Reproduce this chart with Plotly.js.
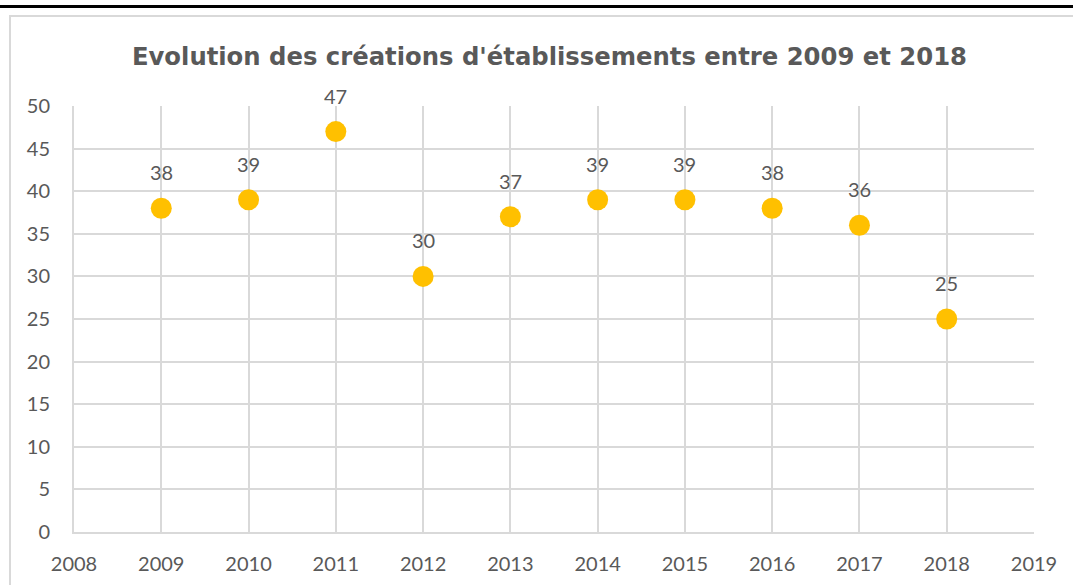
<!DOCTYPE html>
<html>
<head>
<meta charset="utf-8">
<script src="https://cdn.plot.ly/plotly-3.0.1.min.js"></script>
<style>
  html, body { margin: 0; padding: 0; background: #fff; width: 1073px; height: 585px; overflow: hidden; }
  #topline { position: absolute; left: 0; top: 5px; width: 1073px; height: 3px; background: #000; }
  #frame { position: absolute; left: 9px; top: 15px; width: 1064px; height: 570px; border-left: 2px solid #d9d9d9; border-top: 2px solid #d9d9d9; }
  #chart { width: 1062px; height: 568px; }
</style>
</head>
<body>
<div id="topline"></div>
<div id="frame"><div id="chart"></div></div>
<script>
const years = [2009, 2010, 2011, 2012, 2013, 2014, 2015, 2016, 2017, 2018];
const creations = [38, 39, 47, 30, 37, 39, 39, 38, 36, 25];
const chartTitle = "Evolution des créations d'établissements entre 2009 et 2018";

const labelFont = { family: "Lato, 'Open Sans', sans-serif", size: 20, color: "#595959" };

const trace = {
  type: "scatter",
  mode: "markers",
  x: years,
  y: creations,
  marker: { color: "#FFC000", size: 21 },
  hoverinfo: "x+y"
};

const annotations = years.map((yr, i) => ({
  x: yr, y: creations[i], xref: "x", yref: "y",
  text: String(creations[i]), showarrow: false,
  yshift: 36, font: labelFont
}));

const layout = {
  width: 1062, height: 568,
  margin: { l: 63, r: 39, t: 89, b: 53 },
  paper_bgcolor: "#fff", plot_bgcolor: "#fff",
  showlegend: false,
  title: {
    text: "<b>" + chartTitle + "</b>",
    font: { family: "'DejaVu Sans', sans-serif", size: 24.3, color: "#595959" },
    x: 0.507, xref: "container", xanchor: "center",
    y: 0.93, yref: "container", yanchor: "middle"
  },
  xaxis: {
    range: [2008, 2019], dtick: 1, tick0: 2008,
    showgrid: true, gridcolor: "#d9d9d9", gridwidth: 2,
    showline: true, linecolor: "#d9d9d9", linewidth: 2,
    zeroline: false, ticks: "", ticklabelstandoff: 13,
    tickfont: labelFont, fixedrange: true
  },
  yaxis: {
    range: [0, 50], dtick: 5, tick0: 0,
    showgrid: true, gridcolor: "#d9d9d9", gridwidth: 2,
    showline: true, linecolor: "#d9d9d9", linewidth: 2,
    zeroline: false, ticks: "", ticklabelstandoff: 18,
    tickfont: labelFont, fixedrange: true
  },
  annotations: annotations
};

Plotly.newPlot("chart", [trace], layout, { displayModeBar: false, staticPlot: true });
</script>
</body>
</html>
